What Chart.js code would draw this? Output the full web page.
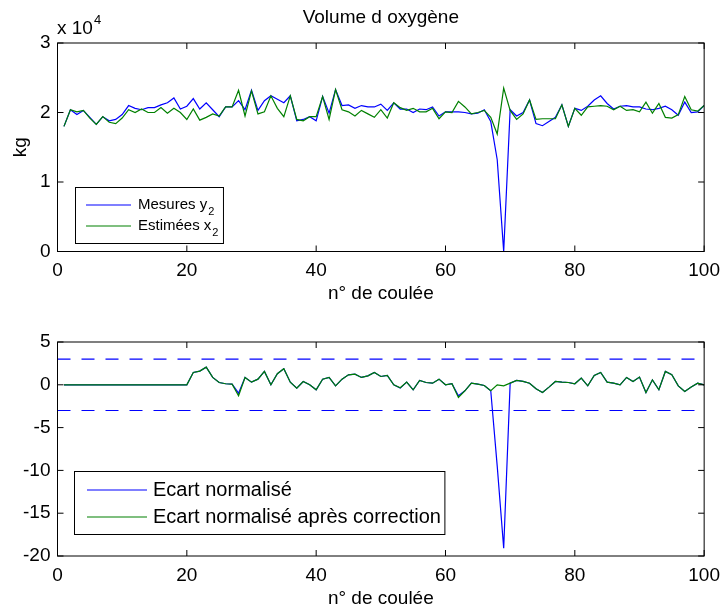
<!DOCTYPE html>
<html>
<head>
<meta charset="utf-8">
<script src="https://cdn.jsdelivr.net/npm/chart.js@4.4.1/dist/chart.umd.min.js"></script>
<style>
  body { margin: 0; background: #fff; }
  .fig { position: relative; width: 728px; height: 610px; }
  canvas { position: absolute; left: 0; }
</style>
</head>
<body>
<div class="fig">
  <canvas id="volumeChart" width="728" height="305" style="top:0"></canvas>
  <canvas id="ecartChart" width="728" height="305" style="top:305px"></canvas>
</div>
<script>
// numéros de coulée
const coulees = Array.from({ length: 100 }, (_, i) => i + 1);
const xTicks = [0, 20, 40, 60, 80, 100];
const yTicksVolume = [0, 10000, 20000, 30000];
const yTicksEcart = [-20, -15, -10, -5, 0, 5];
const seuilHaut = 3;
const seuilBas = -3;

// volume d'oxygène (kg)
const mesuresY2 = [
  18000, 20400, 19700, 20300, 19300, 18300, 19400, 18800, 19000, 19700,
  21000, 20600, 20400, 20700, 20700, 21100, 21400, 22100, 20500, 20900,
  22000, 20500, 21400, 20400, 19400, 20800, 20800, 21700, 20400, 23200,
  20300, 21700, 22400, 21900, 21400, 22400, 18800, 19000, 19400, 18800,
  22300, 19900, 23300, 21000, 21100, 20600, 21000, 20800, 20800, 21200,
  20300, 21400, 20500, 20500, 20000, 20500, 20400, 20800, 19500, 20100,
  20100, 20100, 20000, 19800, 19900, 20400, 18700, 13200, 0, 20400,
  19500, 20000, 21800, 18400, 18100, 18700, 19300, 21100, 18000, 20600,
  20300, 20900, 21800, 22400, 21300, 20500, 20900, 21000, 20800, 20800,
  20500, 20400, 20600, 20900, 20400, 19600, 21500, 20000, 20100, 21000
];
const estimeesX2 = [
  18000, 20400, 20100, 20300, 19200, 18300, 19400, 18600, 18400, 19200,
  20400, 20000, 20500, 20000, 20000, 20700, 19900, 20600, 20000, 19000,
  20500, 18900, 19300, 19800, 19500, 20800, 20800, 23200, 19500, 23100,
  19800, 20100, 22400, 20600, 19400, 22400, 19000, 18800, 19400, 19400,
  22300, 19000, 23300, 20400, 20100, 19500, 20300, 19800, 19300, 20400,
  19200, 21400, 20700, 20300, 20600, 20100, 20100, 20600, 19100, 20100,
  20000, 21600, 20800, 19800, 20000, 20300, 19300, 16900, 23500, 20300,
  19000, 19800, 21800, 19000, 19100, 19100, 19100, 21100, 18000, 20600,
  19600, 20800, 20900, 21000, 20900, 20400, 20900, 20300, 20400, 20100,
  21500, 19900, 21300, 19300, 19200, 19700, 22300, 20400, 20200, 21000
];

// écarts normalisés
const ecartNorm = [
  0, 0, 0, 0, 0, 0, 0, 0, 0, 0,
  0, 0, 0, 0, 0, 0, 0, 0, 0, 0,
  1.44, 1.60, 2.06, 0.86, 0.27, 0.12, 0.08, -0.98, 0.86, 0.31,
  0.66, 1.56, 0.00, 1.30, 1.87, 0.31, -0.39, 0.39, 0.00, -0.58,
  0.66, 0.86, -0.12, 0.66, 1.17, 1.24, 0.86, 1.05, 1.44, 0.97,
  1.09, 0.00, -0.39, 0.31, -0.58, 0.51, 0.27, 0.19, 0.66, 0.00,
  0.12, -1.28, -0.70, 0.19, 0.08, -0.08, -0.70, -9.5, -19.1, 0.19,
  0.51, 0.39, 0.19, -0.47, -0.90, -0.27, 0.39, 0.31, 0.27, 0.12,
  0.78, -0.12, 1.09, 1.44, 0.31, 0.19, 0.00, 0.86, 0.39, 0.90,
  -0.90, 0.58, -0.58, 1.56, 1.17, -0.12, -0.78, -0.27, 0.19, 0.00
];
const ecartNormCorr = [
  0, 0, 0, 0, 0, 0, 0, 0, 0, 0,
  0, 0, 0, 0, 0, 0, 0, 0, 0, 0,
  1.44, 1.60, 2.06, 0.86, 0.27, 0.12, 0.08, -1.28, 0.86, 0.31,
  0.66, 1.56, 0.00, 1.30, 1.87, 0.31, -0.39, 0.39, 0.00, -0.58,
  0.66, 0.86, -0.12, 0.66, 1.17, 1.24, 0.86, 1.05, 1.44, 0.97,
  1.09, 0.00, -0.35, 0.31, -0.58, 0.51, 0.27, 0.19, 0.66, 0.00,
  0.12, -1.48, -0.70, 0.19, 0.08, -0.08, -0.70, 0.00, -0.12, 0.19,
  0.51, 0.39, 0.19, -0.47, -0.90, -0.27, 0.39, 0.31, 0.27, 0.12,
  0.78, -0.12, 1.09, 1.44, 0.31, 0.19, 0.00, 0.86, 0.39, 0.90,
  -0.90, 0.58, -0.58, 1.56, 1.17, -0.12, -0.78, -0.27, 0.19, 0.00
];

const FONT = "'Liberation Sans', Arial, Helvetica, sans-serif";
Chart.defaults.font.family = FONT;
Chart.defaults.font.size = 19;
Chart.defaults.color = '#000';

function toPoints(values) {
  return values.map((v, i) => ({ x: coulees[i], y: v }));
}

function lineDs(label, values, color, order) {
  return {
    label: label, data: toPoints(values), borderColor: color,
    borderWidth: 1.2, pointRadius: 0, tension: 0, fill: false, order: order
  };
}

function seuilDs(val, color) {
  return {
    label: 'seuil', data: [{ x: 0, y: val }, { x: 100, y: val }],
    borderColor: color, borderWidth: 1.2, borderDash: [13, 11],
    pointRadius: 0, fill: false, order: 2
  };
}

// cadre et graduations vers l'intérieur (style matlab)
const matlabBox = {
  id: 'matlabBox',
  afterDraw(chart) {
    const { ctx, chartArea: a, scales } = chart;
    ctx.save();
    ctx.strokeStyle = '#000';
    ctx.lineWidth = 1;
    ctx.strokeRect(a.left, a.top, a.right - a.left, a.bottom - a.top);
    ctx.beginPath();
    scales.x.ticks.forEach(t => {
      const px = scales.x.getPixelForValue(t.value);
      ctx.moveTo(px, a.bottom); ctx.lineTo(px, a.bottom - 6);
      ctx.moveTo(px, a.top); ctx.lineTo(px, a.top + 6);
    });
    scales.y.ticks.forEach(t => {
      const py = scales.y.getPixelForValue(t.value);
      ctx.moveTo(a.left, py); ctx.lineTo(a.left + 6, py);
      ctx.moveTo(a.right, py); ctx.lineTo(a.right - 6, py);
    });
    ctx.stroke();
    ctx.restore();
  }
};

// légende dessinée à la main pour avoir les indices
function drawLegend(ctx, box, items) {
  const big = box.fontSize + 'px ' + FONT;
  const small = box.subSize + 'px ' + FONT;
  ctx.save();
  let w = 0;
  items.forEach(it => {
    ctx.font = big;
    let tw = ctx.measureText(it.text).width;
    if (it.sub) {
      ctx.font = small;
      tw += ctx.measureText(it.sub).width + 1;
    }
    w = Math.max(w, tw);
  });
  const width = box.textX + w + box.padRight - box.left;
  ctx.fillStyle = '#fff';
  ctx.fillRect(box.left, box.top, width, box.height);
  ctx.strokeStyle = '#000';
  ctx.lineWidth = 1;
  ctx.strokeRect(box.left, box.top, width, box.height);
  items.forEach((it, i) => {
    const y = box.firstRow + i * box.rowGap;
    ctx.strokeStyle = it.color;
    ctx.lineWidth = 1.2;
    ctx.beginPath();
    ctx.moveTo(box.lineX0, y);
    ctx.lineTo(box.lineX1, y);
    ctx.stroke();
    ctx.fillStyle = '#000';
    ctx.textAlign = 'left';
    ctx.textBaseline = 'middle';
    ctx.font = big;
    ctx.fillText(it.text, box.textX, y);
    if (it.sub) {
      const tw = ctx.measureText(it.text).width;
      ctx.font = small;
      ctx.fillText(it.sub, box.textX + tw + 1, y + box.subShift);
    }
  });
  ctx.restore();
}

const volumeDecor = {
  id: 'volumeDecor',
  afterDraw(chart) {
    const { ctx, chartArea: a } = chart;
    ctx.save();
    ctx.fillStyle = '#000';
    ctx.textBaseline = 'alphabetic';
    ctx.textAlign = 'center';
    ctx.font = '19px ' + FONT;
    ctx.fillText('Volume d oxygène', (a.left + a.right) / 2, 23);
    ctx.textAlign = 'left';
    ctx.fillText('x 10', 57, 34);
    const w = ctx.measureText('x 10').width;
    ctx.font = '13px ' + FONT;
    ctx.fillText('4', 57 + w + 1, 24);
    ctx.restore();
    drawLegend(ctx, {
      left: 75.5, top: 187.5, height: 56, padRight: 5,
      fontSize: 15, subSize: 11, subShift: 7,
      lineX0: 86, lineX1: 131, textX: 138, firstRow: 205, rowGap: 21
    }, [
      { text: 'Mesures y', sub: '2', color: '#0000ff' },
      { text: 'Estimées x', sub: '2', color: '#008000' }
    ]);
  }
};

const ecartDecor = {
  id: 'ecartDecor',
  afterDraw(chart) {
    drawLegend(chart.ctx, {
      left: 74.5, top: 166.5, height: 63, padRight: 4,
      fontSize: 20, subSize: 14, subShift: 8,
      lineX0: 87, lineX1: 147, textX: 153, firstRow: 185, rowGap: 27
    }, [
      { text: 'Ecart normalisé', color: '#0000ff' },
      { text: 'Ecart normalisé après correction', color: '#008000' }
    ]);
  }
};

function xScale(axisHeight) {
  return {
    type: 'linear', min: 0, max: 100,
    afterBuildTicks: s => { s.ticks = xTicks.map(v => ({ value: v })); },
    grid: { display: false, drawTicks: false },
    border: { display: false },
    ticks: { padding: 8, maxRotation: 0, autoSkip: false },
    title: { display: true, text: 'n° de coulée', padding: 0 },
    afterFit: s => { s.height = axisHeight; }
  };
}

new Chart(document.getElementById('volumeChart'), {
  type: 'line',
  data: {
    datasets: [
      lineDs('Mesures y2', mesuresY2, '#0000ff', 1),
      lineDs('Estimées x2', estimeesX2, '#008000', 0)
    ]
  },
  options: {
    responsive: false,
    animation: false,
    layout: { padding: { top: 43, right: 19, left: 0, bottom: 0 } },
    plugins: { legend: { display: false }, tooltip: { enabled: false } },
    scales: {
      x: xScale(53.5),
      y: {
        min: 0, max: 30000,
        afterBuildTicks: s => { s.ticks = yTicksVolume.map(v => ({ value: v })); },
        grid: { display: false, drawTicks: false },
        border: { display: false },
        ticks: { padding: 7, callback: v => v / 10000 },
        title: { display: true, text: 'kg', padding: { top: 9, bottom: 0 } },
        afterFit: s => { s.width = 57.5; }
      }
    }
  },
  plugins: [matlabBox, volumeDecor]
});

new Chart(document.getElementById('ecartChart'), {
  type: 'line',
  data: {
    datasets: [
      lineDs('Ecart normalisé', ecartNorm, '#0000ff', 1),
      lineDs('Ecart normalisé après correction', ecartNormCorr, '#008000', 0),
      seuilDs(seuilHaut, '#0000ff'),
      seuilDs(seuilBas, '#0000ff')
    ]
  },
  options: {
    responsive: false,
    animation: false,
    layout: { padding: { top: 37, right: 19, left: 0, bottom: 0 } },
    plugins: { legend: { display: false }, tooltip: { enabled: false } },
    scales: {
      x: xScale(54),
      y: {
        min: -20, max: 5,
        afterBuildTicks: s => { s.ticks = yTicksEcart.map(v => ({ value: v })); },
        grid: { display: false, drawTicks: false },
        border: { display: false },
        ticks: { padding: 7 },
        afterFit: s => { s.width = 57.5; }
      }
    }
  },
  plugins: [matlabBox, ecartDecor]
});
</script>
</body>
</html>
